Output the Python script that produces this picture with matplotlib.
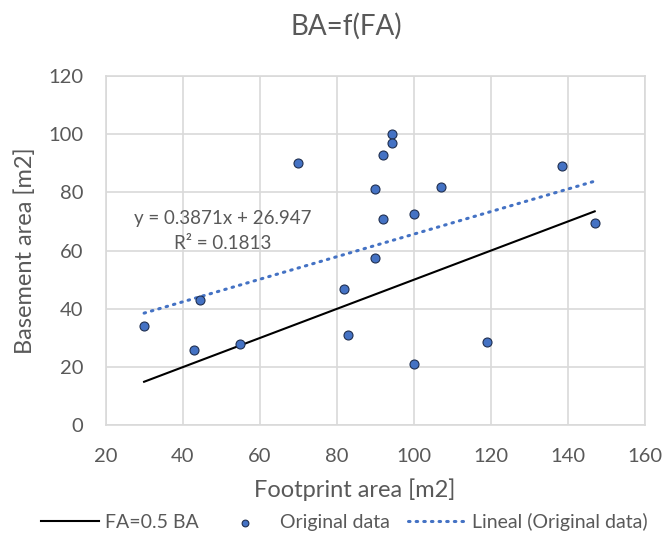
import matplotlib
matplotlib.use("Agg")
from matplotlib import pyplot as plt
import numpy as np

plt.rcParams['font.family'] = ['Lato', 'DejaVu Sans']

# Footprint area vs basement area
footprint = [30, 43, 44.5, 55, 70, 82, 83, 90, 90, 92, 92, 94.5, 94.5, 100, 100, 107, 119, 138.5, 147]
basement = [34, 26, 43, 28, 90, 47, 31, 81, 57.5, 93, 71, 100, 97, 72.5, 21, 82, 28.5, 89, 69.5]

# Linear trendline coefficients
slope = 0.3871
intercept = 26.947
r_squared = 0.1813

text_color = "#595959"
grid_color = "#D9D9D9"
blue = "#4472C4"

fig = plt.figure(figsize=(6.64, 5.42), dpi=100)
ax = fig.add_axes([0.159, 0.215, 0.812, 0.645])

x_line = np.array([min(footprint), max(footprint)])
ax.plot(x_line, 0.5 * x_line, color="black", lw=1.5, label="FA=0.5 BA", zorder=2)
ax.scatter(footprint, basement, s=42, color=blue, edgecolor="#1F2F50", linewidth=0.8,
           label="Original data", zorder=3)
ax.plot(x_line, slope * x_line + intercept, color=blue, lw=2.2, linestyle=(0, (0.5, 2.0)),
        dash_capstyle="round", label="Lineal (Original data)", zorder=2)

ax.text(50.5, 71, f"y = {slope}x + {intercept}", ha="center", va="center",
        fontsize=13.5, color=text_color)
ax.text(50.5, 62.5, f"R² = {r_squared}", ha="center", va="center",
        fontsize=13.5, color=text_color)

ax.set_xlim(20, 160)
ax.set_ylim(0, 120)
ax.set_xticks(range(20, 161, 20))
ax.set_yticks(range(0, 121, 20))
ax.grid(True, color=grid_color, lw=1.2)
ax.set_axisbelow(True)
for s in ax.spines.values():
    s.set_color(grid_color)
    s.set_linewidth(1.2)
ax.tick_params(length=0, labelsize=14.5, colors=text_color)
ax.tick_params(axis="x", pad=16)
ax.tick_params(axis="y", pad=16)

fig.text(0.521, 0.952, "BA=f(FA)", ha="center", va="center", fontsize=20, color=text_color)
ax.set_xlabel("Footprint area [m2]", fontsize=17, color=text_color, va="center")
ax.xaxis.set_label_coords(0.462, -0.184)
ax.set_ylabel("Basement area [m2]", fontsize=17, color=text_color, va="center")
ax.yaxis.set_label_coords(-0.150, 0.5)

fig.legend(loc="center", ncol=3, frameon=False, fontsize=14, markerscale=0.75,
           bbox_to_anchor=(0.518, 0.037), handlelength=3.0, handletextpad=0.3,
           columnspacing=0.9, labelcolor=text_color)

plt.savefig("out.png", dpi=100)
